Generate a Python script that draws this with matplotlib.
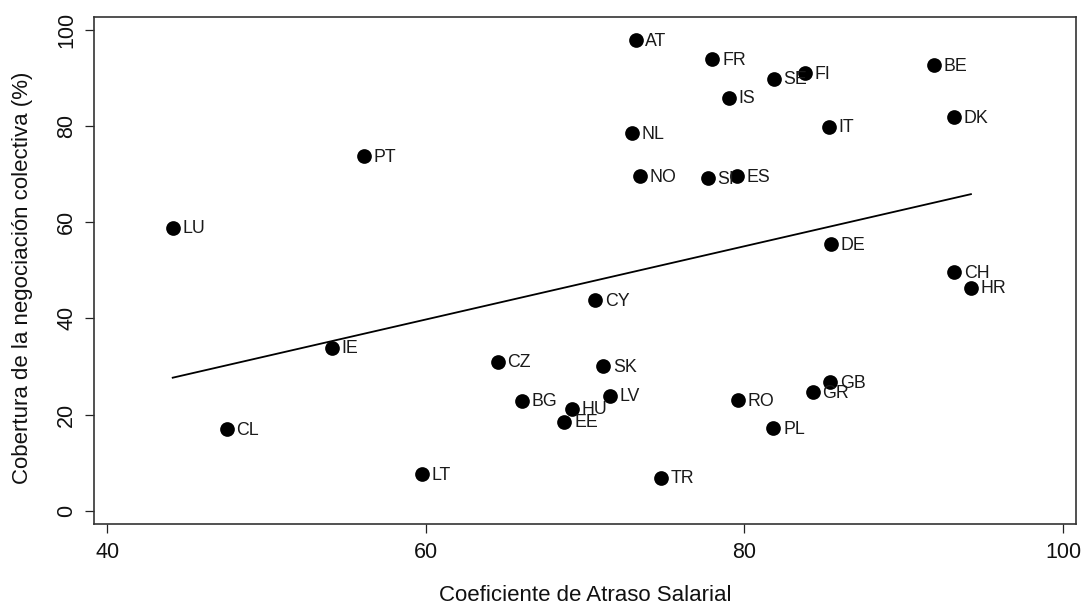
import numpy as np
import matplotlib
matplotlib.use("Agg")
import matplotlib.pyplot as plt

plt.rcParams['font.family'] = ['Liberation Sans', 'DejaVu Sans']

countries = ["PT", "LU", "IE", "CL", "LT", "CY", "CZ", "SK", "BG", "HU", "EE", "LV",
             "RO", "PL", "TR", "AT", "FR", "SE", "FI", "IS", "NL", "IT", "NO", "SI",
             "ES", "BE", "DK", "DE", "CH", "HR", "GB", "GR"]
atraso = [56.10, 44.10, 54.09, 47.49, 59.74, 70.63, 64.51, 71.14, 66.01, 69.15, 68.69, 71.56,
          79.57, 81.81, 74.76, 73.17, 77.98, 81.83, 83.80, 79.00, 72.92, 85.30, 73.42, 77.69,
          79.51, 91.90, 93.13, 85.43, 93.17, 94.22, 85.37, 84.28]
cobertura = [73.7, 58.9, 33.9, 16.9, 7.6, 43.8, 31.0, 30.0, 22.9, 21.2, 18.5, 23.9,
             23.0, 17.1, 6.9, 97.9, 93.9, 89.9, 91.0, 85.9, 78.5, 79.9, 69.6, 69.2,
             69.6, 92.7, 81.9, 55.4, 49.6, 46.4, 26.7, 24.6]

xticks = [40, 60, 80, 100]
yticks = [0, 20, 40, 60, 80, 100]

x = np.array(atraso)
y = np.array(cobertura)

fig = plt.figure(figsize=(10.82, 6.05), dpi=100)
ax = fig.add_axes([0.0869, 0.1339, 0.9073, 0.838])

ax.scatter(x, y, s=112, color='black', zorder=3, linewidths=0)
for c, xi, yi in zip(countries, x, y):
    ax.annotate(c, (xi, yi), xytext=(7.0, -0.8), textcoords='offset points',
                ha='left', va='center', fontsize=12.8, color='#1a1a1a', zorder=4)

slope, intercept = np.polyfit(x, y, 1)
xl = np.array([x.min(), x.max()])
ax.plot(xl, intercept + slope * xl, color='black', lw=1.3, zorder=2)

ax.set_xlim(39.16, 100.8)
ax.set_ylim(-2.77, 102.7)
ax.set_xticks(xticks)
ax.set_yticks(yticks)
ax.set_xticklabels([str(t) for t in xticks])
ax.set_yticklabels([str(t) for t in yticks], rotation=90, va='center')

ax.tick_params(axis='both', direction='out', length=6.5, width=0.9, colors='#222222',
               labelsize=15.5, labelcolor='#111111')
ax.tick_params(axis='x', pad=6.5)
ax.tick_params(axis='y', pad=5.5)

for s in ax.spines.values():
    s.set_linewidth(1.2)
    s.set_color('#333333')

ax.set_xlabel("Coeficiente de Atraso Salarial", fontsize=16, color='#111111')
ax.set_ylabel("Cobertura de la negociación colectiva (%)", fontsize=16, color='#111111')
ax.xaxis.set_label_coords(0.5, -0.12)
ax.yaxis.set_label_coords(-0.062, 0.485)

fig.savefig("out.png", dpi=100)
